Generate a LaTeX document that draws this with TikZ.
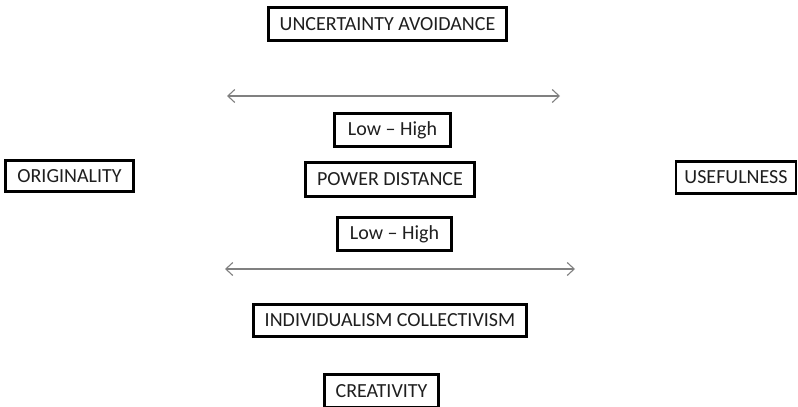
\documentclass[tikz,border=0pt]{standalone}
\usepackage{fontspec}
\setmainfont{Carlito}
\usetikzlibrary{arrows.meta}
\begin{document}
\begin{tikzpicture}[x=1pt,y=-1pt,
  labelbox/.style={draw=black, line width=2.6pt, fill=white, inner sep=0pt,
    font=\fontsize{20}{22}\selectfont, text=black!88, align=center},
  scale line/.style={draw=black!50, line width=1.1pt,
    {Straight Barb[length=7pt,width=13pt]}-{Straight Barb[length=7pt,width=13pt]}}]
  \useasboundingbox (0,0) rectangle (798,407);
  % dimension boxes
  \node[labelbox, minimum width=238pt, minimum height=33pt] (ua) at (387.5,24) {UNCERTAINTY AVOIDANCE};
  \node[labelbox, minimum width=116pt, minimum height=33pt] (lh1) at (392.5,130) {Low -- High};
  \node[labelbox, minimum width=169pt, minimum height=34pt] (pd) at (390,179.5) {POWER DISTANCE};
  \node[labelbox, minimum width=128pt, minimum height=31pt] (orig) at (69.5,176) {ORIGINALITY};
  \node[labelbox, minimum width=120pt, minimum height=32pt] (use) at (736,177.5) {USEFULNESS};
  \node[labelbox, minimum width=114pt, minimum height=33pt] (lh2) at (394.5,234) {Low -- High};
  \node[labelbox, minimum width=273pt, minimum height=32pt] (ic) at (390,320.5) {INDIVIDUALISM COLLECTIVISM};
  \node[labelbox, minimum width=114pt, minimum height=33pt] (cr) at (381.5,391) {CREATIVITY};
  % low-high scales
  \coordinate (s1l) at (227,96);
  \coordinate (s1r) at (560,96);
  \coordinate (s2l) at (225,269);
  \coordinate (s2r) at (575,269);
  \draw[scale line] (s1l) -- (s1r);
  \draw[scale line] (s2l) -- (s2r);
\end{tikzpicture}
\end{document}
